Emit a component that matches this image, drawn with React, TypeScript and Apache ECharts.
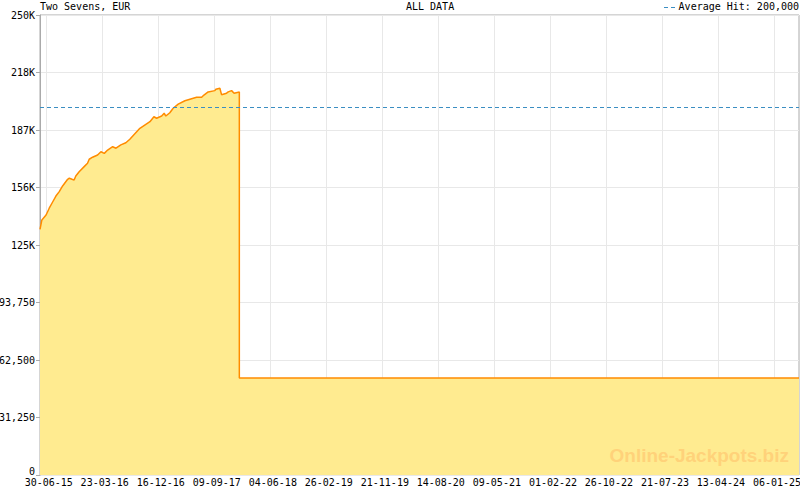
import React, { useEffect, useRef } from "react";
import * as echarts from "echarts";

const TITLE = "Two Sevens, EUR";
const SUBTITLE = "ALL DATA";
const AVG_LABEL = "Average Hit: 200,000";
const AVERAGE_HIT = 200000;

const X_TICK_LABELS = [
  "30-06-15", "23-03-16", "16-12-16", "09-09-17", "04-06-18", "26-02-19", "21-11-19",
  "14-08-20", "09-05-21", "01-02-22", "26-10-22", "21-07-23", "13-04-24", "06-01-25",
];
const Y_TICK_LABELS = ["0", "31,250", "62,500", "93,750", "125K", "156K", "187K", "218K", "250K"];
const Y_MAX = 250000;
const Y_INTERVAL = 31250;
const X_START = "2015-05-31";
const X_END = "2025-05-03";

const DATES = [
  "2015-05-31", "2015-06-09", "2015-06-29", "2015-07-14", "2015-07-31", "2015-08-15",
  "2015-08-31", "2015-09-16", "2015-10-10", "2015-10-18", "2015-10-31", "2015-11-10",
  "2015-11-18", "2015-12-04", "2015-12-28", "2016-01-13", "2016-01-21", "2016-02-06",
  "2016-03-01", "2016-03-17", "2016-04-02", "2016-04-18", "2016-05-12", "2016-05-28",
  "2016-06-20", "2016-07-14", "2016-08-02", "2016-09-19", "2016-10-21", "2016-11-06",
  "2016-11-25", "2016-12-08", "2017-01-01", "2017-01-13", "2017-01-21", "2017-02-09",
  "2017-02-25", "2017-03-21", "2017-04-22", "2017-05-24", "2017-06-17", "2017-07-11",
  "2017-07-22", "2017-08-11", "2017-09-12", "2017-09-17", "2017-10-06", "2017-10-14",
  "2017-11-07", "2017-11-15", "2017-12-01", "2017-12-13", "2018-01-07", "2018-01-07",
  "2025-05-03",
];
const VALUES = [
  133500, 138600, 141300, 145000, 148500, 151600,
  154000, 157100, 160700, 161300, 160700, 160300,
  162500, 164800, 167600, 169400, 171600, 172700,
  173900, 175700, 174800, 176600, 178400, 177600,
  179400, 180600, 182500, 188400, 190800, 192000,
  194700, 193900, 195100, 196600, 195100, 196900,
  199300, 201600, 203400, 204500, 205300, 205300,
  206500, 208200, 208900, 209600, 210200, 206700,
  207500, 208200, 208900, 207500, 208200, 52700,
  52700,
];

const FONT = "'DejaVu Sans Mono', monospace";

function isoToMs(s: string): number {
  const [y, m, d] = s.split("-").map(Number);
  return Date.UTC(y, m - 1, d);
}
function tickToMs(s: string): number {
  const [d, m, y] = s.split("-").map(Number);
  return Date.UTC(2000 + y, m - 1, d);
}

export default function App() {
  const ref = useRef<HTMLDivElement>(null);
  useEffect(() => {
    document.body.style.margin = "0";
    if (!ref.current) return;
    const chart = echarts.init(ref.current, null, { renderer: "svg" });
    const xMin = isoToMs(X_START);
    const xMax = isoToMs(X_END);
    const majors = X_TICK_LABELS.map(tickToMs);
    const minors: number[] = [];
    for (let i = 0; i < majors.length; i++) {
      const next = i + 1 < majors.length ? majors[i + 1] : majors[i] + (majors[i] - majors[i - 1]);
      const step = (next - majors[i]) / 7;
      for (let k = 1; k < 7; k++) {
        const v = majors[i] + step * k;
        if (v <= xMax) minors.push(v);
      }
    }
    const data = DATES.map((d, i) => [isoToMs(d), VALUES[i]]);
    const labelFor = (v: number) => {
      let best = 0;
      for (let i = 1; i < majors.length; i++) {
        if (Math.abs(majors[i] - v) < Math.abs(majors[best] - v)) best = i;
      }
      return X_TICK_LABELS[best];
    };
    chart.setOption({
      animation: false,
      grid: {
        left: 40, top: 15, right: 1, bottom: 15,
        outerBoundsMode: "none",
        containLabel: false,
        show: true, borderColor: "#aaaaaa", borderWidth: 1, backgroundColor: "#ffffff",
      },
      xAxis: [
        {
          type: "value", min: xMin, max: xMax, position: "bottom",
          axisLine: { show: false },
          axisTick: { show: true, inside: true, length: 6, customValues: majors, lineStyle: { color: "#a0a0b0" } },
          axisLabel: {
            show: true, customValues: majors, formatter: (v: number) => labelFor(v),
            color: "#000", fontFamily: FONT, fontSize: 10, margin: 2, padding: [0, 0, 0, 5],
            hideOverlap: false,
          },
          splitLine: { show: false },
        },
        {
          type: "value", min: xMin, max: xMax, position: "bottom",
          axisLine: { show: false },
          axisTick: { show: true, inside: true, length: 4, customValues: minors, lineStyle: { color: "#a0a0b0" } },
          axisLabel: { show: false },
          splitLine: { show: false },
        },
      ],
      yAxis: {
        type: "value", min: 0, max: Y_MAX, interval: Y_INTERVAL,
        axisLine: { show: true, lineStyle: { color: "#aaaaaa" } },
        axisTick: { show: true, length: 4, lineStyle: { color: "#aaaaaa" } },
        axisLabel: {
          color: "#000", fontFamily: FONT, fontSize: 10, margin: 5,
          formatter: (v: number) => {
            const i = Math.round(v / Y_INTERVAL);
            const t = Y_TICK_LABELS[i] ?? "";
            return i === 0 ? `{z|${t}}` : t;
          },
          rich: {
            z: { fontFamily: FONT, fontSize: 10, color: "#000", padding: [0, 0, 7, 0], lineHeight: 10 },
          },
        },
        splitLine: { show: true, lineStyle: { color: "#e8e8e8", width: 1 } },
      },
      series: [
        {
          type: "line",
          xAxisIndex: 0,
          data: [],
          z: 1,
          silent: true,
          markLine: {
            z: 1,
            silent: true,
            symbol: ["none", "none"],
            label: { show: false },
            lineStyle: { type: "solid", color: "#e8e8e8", width: 1 },
            data: majors.map((m) => ({ xAxis: m })),
          },
        },
        {
          type: "line",
          xAxisIndex: 0,
          data,
          z: 3,
          symbol: "none",
          lineStyle: { color: "#ff8c00", width: 1.5 },
          itemStyle: { color: "#ff8c00" },
          areaStyle: { color: "#ffeb90", opacity: 1 },
          markLine: {
            silent: true,
            symbol: ["none", "none"],
            label: { show: false },
            lineStyle: { type: [4, 3], color: "#3b8ec2", width: 1 },
            data: [{ yAxis: AVERAGE_HIT }],
          },
        },
      ],
      graphic: [
        {
          type: "text", left: 40, top: 1, z: 100,
          style: { text: TITLE, fill: "#000", font: `10px ${FONT}` },
        },
        {
          type: "text", left: 406, top: 1, z: 100,
          style: { text: SUBTITLE, fill: "#000", font: `10px ${FONT}` },
        },
        {
          type: "line", z: 100,
          shape: { x1: 664, y1: 7.5, x2: 678, y2: 7.5 },
          style: { stroke: "#3b8ec2", lineWidth: 1, lineDash: [4, 3] },
        },
        {
          type: "text", right: 1, top: 1, z: 100,
          style: { text: AVG_LABEL, fill: "#000", font: `10px ${FONT}` },
        },
        {
          type: "text", right: 11, top: 446, z: 100,
          style: { text: "Online-Jackpots.biz", fill: "#ffd27a", font: "bold 19px 'Liberation Sans', Arial, sans-serif" },
        },
      ],
    });
    return () => chart.dispose();
  }, []);
  return <div ref={ref} style={{ width: 800, height: 490 }} />;
}
